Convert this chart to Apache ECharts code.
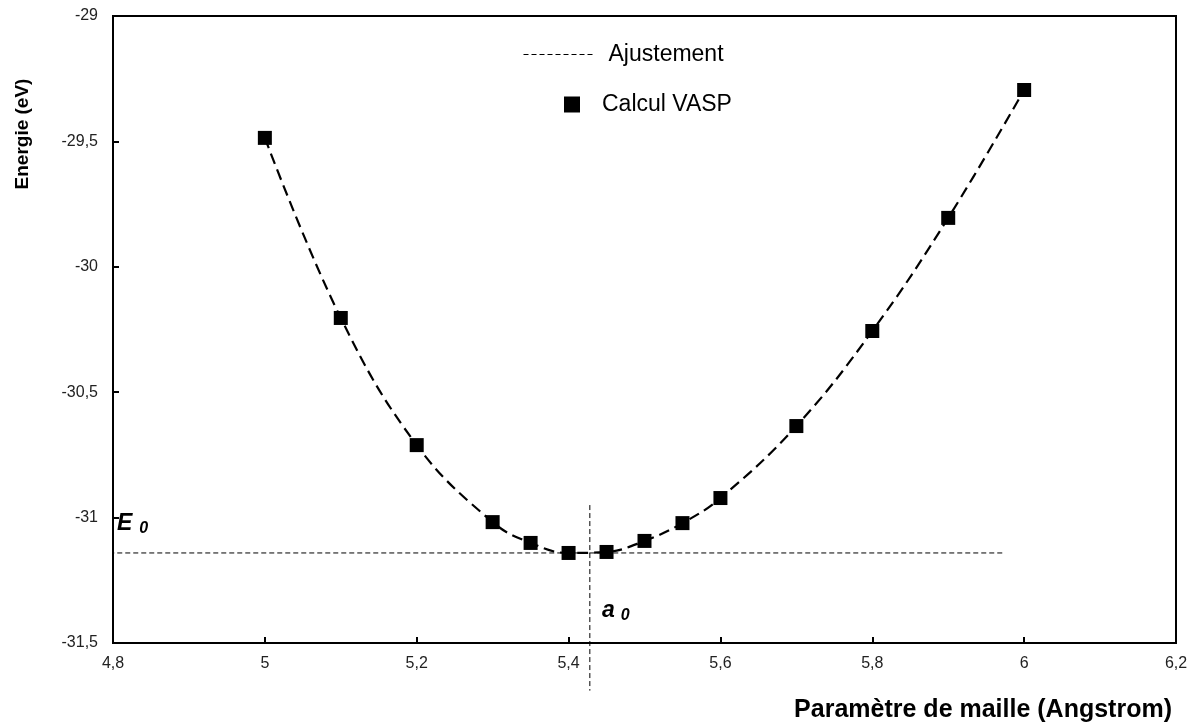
<!DOCTYPE html>
<html>
<head>
<meta charset="utf-8">
<script src="https://cdn.jsdelivr.net/npm/echarts@6/dist/echarts.min.js"></script>
<style>
  html, body { margin: 0; padding: 0; background: #fff; }
  #chart { width: 1192px; height: 724px; }
</style>
</head>
<body>
<div id="chart"></div>
<script>
// parametre de maille (Angstrom)
var latticeParam = [5.0, 5.1, 5.2, 5.3, 5.35, 5.4, 5.45, 5.5, 5.55, 5.6, 5.7, 5.8, 5.9, 6.0];
// energie calculee VASP (eV)
var energyVasp = [-29.486, -30.204, -30.711, -31.018, -31.101, -31.141, -31.137,
                  -31.093, -31.022, -30.922, -30.635, -30.256, -29.805, -29.295];
// minimum de l'ajustement (E0, a0)
var e0Line = [[4.774, -31.141], [5.975, -31.141]];
var a0Line = [[5.428, -30.95], [5.428, -31.69]];

var font = "Liberation Sans, Arial, sans-serif";

function comma(v) {
  return String(v).replace('.', ',');
}

var pts = latticeParam.map(function (x, i) { return [x, energyVasp[i]]; });

var chart = echarts.init(document.getElementById('chart'));

var option = {
  backgroundColor: '#fff',
  animation: false,
  grid: {
    left: 113, right: 16, top: 16, bottom: 81,
    show: true, borderColor: '#000', borderWidth: 2
  },
  legend: [
    {
      data: [{
        name: 'Ajustement',
        itemStyle: { opacity: 0 },
        lineStyle: { width: 1, type: [5, 3], color: '#000' }
      }],
      left: 518, top: 38,
      itemWidth: 70, itemHeight: 14,
      textStyle: { fontFamily: font, fontSize: 23, color: '#000', padding: [0, 0, 0, 10] }
    },
    {
      data: ['Calcul VASP'],
      left: 559, top: 88,
      itemWidth: 16, itemHeight: 16,
      textStyle: { fontFamily: font, fontSize: 23, color: '#000', padding: [0, 0, 0, 17] }
    }
  ],
  xAxis: {
    type: 'value',
    min: 4.8, max: 6.2, interval: 0.2,
    axisLine: { lineStyle: { color: '#000', width: 2 } },
    axisTick: { inside: true, length: 6, lineStyle: { color: '#000', width: 2 } },
    splitLine: { show: false },
    axisLabel: {
      margin: 13, color: '#222', fontFamily: font, fontSize: 16,
      formatter: function (v) { return comma(Math.round(v * 10) / 10); }
    }
  },
  yAxis: {
    type: 'value',
    min: -31.5, max: -29, interval: 0.5,
    axisLine: { lineStyle: { color: '#000', width: 2 } },
    axisTick: { inside: true, length: 6, lineStyle: { color: '#000', width: 2 } },
    splitLine: { show: false },
    axisLabel: {
      margin: 15, color: '#222', fontFamily: font, fontSize: 16,
      formatter: function (v) { return comma(Math.round(v * 10) / 10); }
    }
  },
  series: [
    {
      name: 'Ajustement',
      type: 'line',
      data: pts,
      smooth: 0.4,
      symbol: 'none',
      lineStyle: { color: '#000', width: 2.2, type: [11, 6] },
      itemStyle: { color: '#000' },
      z: 2
    },
    {
      name: 'Calcul VASP',
      type: 'scatter',
      data: pts,
      symbol: 'rect',
      symbolSize: 14,
      itemStyle: { color: '#000', opacity: 1 },
      z: 3
    },
    {
      name: 'E0',
      type: 'line',
      data: e0Line,
      symbol: 'none',
      clip: false,
      silent: true,
      lineStyle: { color: '#000', width: 1, type: [5, 3] },
      z: 1
    },
    {
      name: 'a0',
      type: 'line',
      data: a0Line,
      symbol: 'none',
      clip: false,
      silent: true,
      lineStyle: { color: '#000', width: 1, type: [5, 3] },
      z: 1
    }
  ],
  graphic: [
    {
      type: 'text',
      x: 23, y: 134,
      rotation: Math.PI / 2,
      style: {
        text: 'Energie (eV)',
        font: 'bold 19px ' + font,
        fill: '#000',
        align: 'center',
        verticalAlign: 'middle'
      }
    },
    {
      type: 'text',
      x: 1172, y: 710,
      style: {
        text: 'Paramètre de maille (Angstrom)',
        font: 'bold 25px ' + font,
        fill: '#000',
        align: 'right',
        verticalAlign: 'middle'
      }
    },
    {
      type: 'text',
      x: 117, y: 524,
      style: {
        text: '{m|E}{s|0}',
        verticalAlign: 'middle',
        rich: {
          m: { font: 'italic bold 23px ' + font, fill: '#000' },
          s: { font: 'italic bold 16px ' + font, fill: '#000', padding: [10, 0, 0, 7] }
        }
      }
    },
    {
      type: 'text',
      x: 602, y: 611,
      style: {
        text: '{m|a}{s|0}',
        verticalAlign: 'middle',
        rich: {
          m: { font: 'italic bold 23px ' + font, fill: '#000' },
          s: { font: 'italic bold 16px ' + font, fill: '#000', padding: [10, 0, 0, 6] }
        }
      }
    }
  ]
};

chart.setOption(option);
</script>
</body>
</html>
